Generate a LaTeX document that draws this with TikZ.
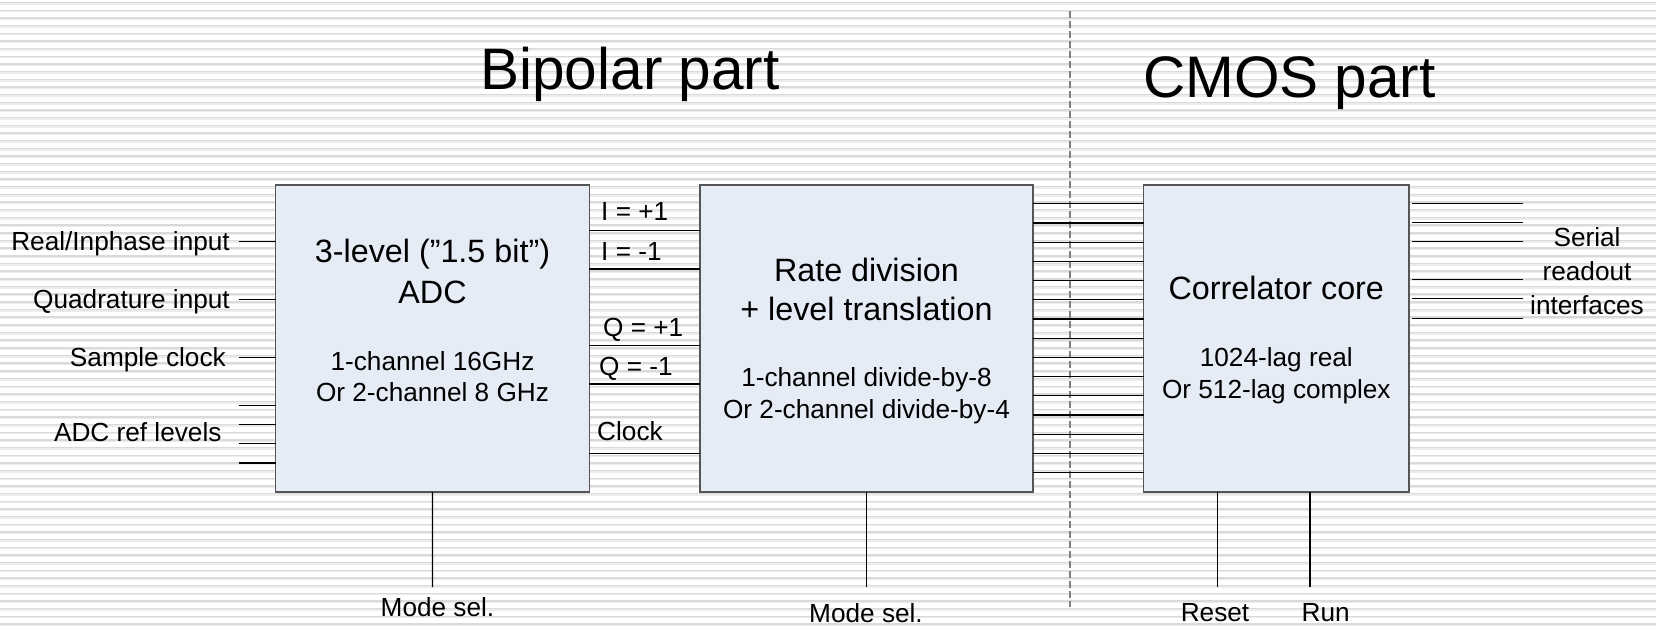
\documentclass[tikz,border=0pt]{standalone}
\usepackage{fontspec}
\setmainfont{Liberation Sans}
\usetikzlibrary{calc}
\definecolor{boxfill}{RGB}{229,236,246}
\definecolor{boxline}{RGB}{85,85,85}
\definecolor{stripeA}{RGB}{218,218,218}
\definecolor{stripeB}{RGB}{236,236,236}
\definecolor{dashcol}{RGB}{128,128,128}
\begin{document}
\begin{tikzpicture}[x=1pt,y=-1pt,
  blockbox/.style={draw=boxline,line width=1.5pt,fill=boxfill,inner sep=0pt,outer sep=0pt},
  wire/.style={draw=black,line width=1.2pt},
  lbl/.style={font=\fontsize{26.2}{30}\selectfont,inner sep=0pt},
  biglbl/.style={font=\fontsize{32.3}{38}\selectfont,inner sep=0pt},
  titlelbl/.style={font=\fontsize{58.5}{66}\selectfont,inner sep=0pt}]
\useasboundingbox (0,0) rectangle (1656,627);
\fill[white] (0,0) rectangle (1656,627);
% background stripes
\foreach \k [evaluate=\k as \yy using 2.7+7.67*\k, evaluate=\k as \yb using 4.1+7.67*\k] in {0,...,81}{
  \draw[stripeA,line width=1.4pt] (0,\yy) -- (1656,\yy);
  \draw[stripeB,line width=1.4pt] (0,\yb) -- (1656,\yb);
}
% divider
\coordinate (divtop) at (1070,11);
\coordinate (divbot) at (1070,607);
\draw[dashcol,line width=2pt,dash pattern=on 7pt off 3pt] (divtop) -- (divbot);
% titles
\node[titlelbl,anchor=base] (tbip) at (630,89.6) {Bipolar part};
\node[titlelbl,anchor=base] (tcmos) at (1289.5,97.6) {CMOS part};
% blocks
\node[blockbox,minimum width=313.7pt,minimum height=307.2pt] (adc) at (432.45,338.4) {};
\node[blockbox,minimum width=332.6pt,minimum height=307.2pt] (rate) at (866.5,338.4) {};
\node[blockbox,minimum width=265.3pt,minimum height=307.2pt] (corr) at (1276.35,338.4) {};
% block texts
\node[biglbl,anchor=base] (adct1) at (432.5,262.7) {3-level (”1.5 bit”)};
\node[biglbl,anchor=base] (adct2) at (432.5,303.3) {ADC};
\node[lbl,anchor=base] (adct3) at (432.5,370) {1-channel 16GHz};
\node[lbl,anchor=base] (adct4) at (432.5,401.7) {Or 2-channel 8 GHz};
\node[biglbl,anchor=base] (ratet1) at (866.5,281.7) {Rate division};
\node[biglbl,anchor=base] (ratet2) at (866.5,320) {+ level translation};
\node[lbl,anchor=base] (ratet3) at (866.5,386.7) {1-channel divide-by-8};
\node[lbl,anchor=base] (ratet4) at (866.5,418.3) {Or 2-channel divide-by-4};
\node[biglbl,anchor=base] (corrt1) at (1276.3,299.3) {Correlator core};
\node[lbl,anchor=base] (corrt2) at (1276.3,366.7) {1024-lag real};
\node[lbl,anchor=base] (corrt3) at (1276.3,398.3) {Or 512-lag complex};
% inputs
\node[lbl,anchor=base east] (lre) at (230,250.9) {Real/Inphase input};
\node[lbl,anchor=base east] (lqu) at (230,308.5) {Quadrature input};
\node[lbl,anchor=base east] (lsc) at (226,366.5) {Sample clock};
\node[lbl,anchor=base east] (lref) at (221.7,441) {ADC ref levels};
\foreach \yy in {241.7,299.3,357.3,405.3,424.3,443.7,463}{
  \coordinate (in) at (238.7,\yy);
  \draw[wire] (in) -- (in -| adc.west);
}
% ADC -> rate
\foreach \yy in {230.7,269,345.7,384,453.3}{
  \draw[wire] (adc.east |- 0,\yy) -- (rate.west |- 0,\yy);
}
\node[lbl,anchor=base west] (lip) at (601,220) {I = +1};
\node[lbl,anchor=base west] (lim) at (601,260.7) {I = -1};
\node[lbl,anchor=base west] (lqp) at (603,336.7) {Q = +1};
\node[lbl,anchor=base west] (lqm) at (599,375) {Q = -1};
\node[lbl,anchor=base west] (lclk) at (597,440) {Clock};
% rate -> corr bus
\foreach \k [evaluate=\k as \yy using 203.7+19.21*\k] in {0,...,14}{
  \draw[wire] (rate.east |- 0,\yy) -- (corr.west |- 0,\yy);
}
% outputs
\foreach \yy in {203.7,222.7,241.7,279.3,298.3,318.3}{
  \coordinate (out) at (1523.3,\yy);
  \draw[wire] ($(corr.east |- out)+(3,0)$) -- (out);
}
\node[lbl,anchor=base] (ls1) at (1587,246) {Serial};
\node[lbl,anchor=base] (ls2) at (1587,280) {readout};
\node[lbl,anchor=base] (ls3) at (1587,314) {interfaces};
% bottom controls
\coordinate (madc) at (432.5,587);
\coordinate (mrate) at (866.5,587);
\coordinate (mres) at (1217.7,587);
\coordinate (mrun) at (1310,587);
\draw[wire] (adc.south) -- (madc);
\draw[wire] (rate.south) -- (mrate);
\draw[wire] (mres |- corr.south) -- (mres);
\draw[wire] (mrun |- corr.south) -- (mrun);
\node[lbl,anchor=base] (lmadc) at (437.5,616.5) {Mode sel.};
\node[lbl,anchor=base] (lmrate) at (866,622) {Mode sel.};
\node[lbl,anchor=base] (lres) at (1215,621.7) {Reset};
\node[lbl,anchor=base] (lrun) at (1325.6,621.7) {Run};
\end{tikzpicture}
\end{document}
